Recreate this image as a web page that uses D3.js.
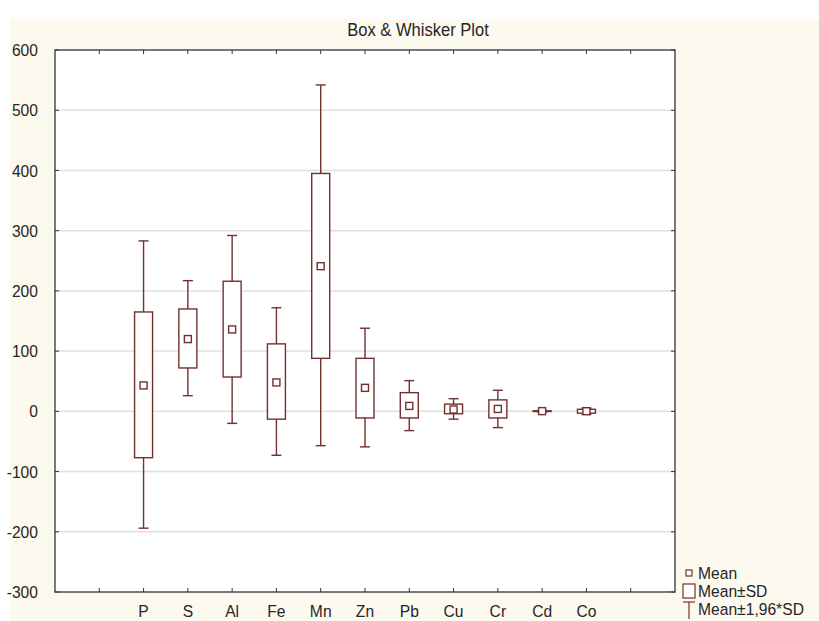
<!DOCTYPE html>
<html><head><meta charset="utf-8">
<script src="https://cdn.jsdelivr.net/npm/d3@7"></script>
<style>body{margin:0;background:#fff;}svg{display:block;font-family:"Liberation Sans",Arial,sans-serif;}</style>
</head><body><svg id="c" width="819" height="621"></svg>
<script>
const categories = ["P","S","Al","Fe","Mn","Zn","Pb","Cu","Cr","Cd","Co"];
const meanVals   = [43, 120, 136, 48, 241, 39, 9, 3, 4, 0.3, 0.2];
const sdLow      = [-77, 72, 57, -13, 88, -11, -11, -4, -11, -0.3, -3];
const sdHigh     = [165, 170, 216, 112, 395, 88, 31, 12, 19, 0.9, 3.4];
const ciLow      = [-194, 26, -20, -73, -57, -59, -32, -13, -27, -0.9, -5];
const ciHigh     = [283, 217, 292, 172, 542, 138, 51, 21, 35, 1.5, 5.4];
const yTicks = [-300,-200,-100,0,100,200,300,400,500,600];
const legendLabels = ["Mean","Mean±SD","Mean±1,96*SD"];
const title = "Box & Whisker Plot";

const col = "#72302e";
const txt = "#262626";
const sx = 0.92;
const svg = d3.select("#c");
svg.append("rect").attr("x",10).attr("y",19).attr("width",809).attr("height",602).attr("fill","#fcf9ef");

const L=55,R=675,T=50,B=592;
const x = d3.scaleLinear().domain([0,14]).range([L,R]);
const y = d3.scaleLinear().domain([-300,600]).range([B,T]);

svg.append("rect").attr("x",L).attr("y",T).attr("width",R-L).attr("height",B-T).attr("fill","#fff");

// gridlines
svg.append("g").selectAll("line").data(yTicks.filter(v=>v>-300&&v<600)).join("line")
  .attr("x1",L).attr("x2",R).attr("y1",d=>y(d)).attr("y2",d=>y(d))
  .attr("stroke","#e0e0e0").attr("stroke-width",1.5);

// frame ticks
const tickIdx = d3.range(1,14);
const tg = svg.append("g").attr("stroke","#333").attr("stroke-width",1);
tg.selectAll(".tt").data(tickIdx).join("line").attr("x1",d=>x(d)).attr("x2",d=>x(d)).attr("y1",T).attr("y2",T+4);
tg.selectAll(".tb").data(tickIdx).join("line").attr("x1",d=>x(d)).attr("x2",d=>x(d)).attr("y1",B).attr("y2",B-4);
tg.selectAll(".tl").data(yTicks).join("line").attr("x1",L).attr("x2",L+4).attr("y1",d=>y(d)).attr("y2",d=>y(d));
tg.selectAll(".tr").data(yTicks).join("line").attr("x1",R).attr("x2",R-4).attr("y1",d=>y(d)).attr("y2",d=>y(d));

function place(sel, fx, fy){
  return sel.attr("transform",(d,i)=>`translate(${fx(d,i)},${fy(d,i)}) scale(${sx},1)`);
}

// y labels
place(svg.append("g").selectAll("text").data(yTicks).join("text"), ()=>38, d=>y(d))
  .attr("dy","0.36em").attr("text-anchor","end")
  .attr("font-size",17).attr("fill",txt).text(d=>d);

// x labels
place(svg.append("g").selectAll("text").data(categories).join("text"), (d,i)=>x(i+2), ()=>617)
  .attr("text-anchor","middle")
  .attr("font-size",17).attr("fill",txt).text(d=>d);

// title
svg.append("text").attr("transform",`translate(418,36) scale(${sx},1)`).attr("text-anchor","middle")
  .attr("font-size",18).attr("fill",txt).text(title);

// boxes
const bw=18, cw=10, mw=7;
const g = svg.append("g").attr("stroke",col).attr("stroke-width",1.4);
categories.forEach((c,i)=>{
  const cx = x(i+2);
  g.append("line").attr("x1",cx).attr("x2",cx).attr("y1",y(ciLow[i])).attr("y2",y(ciHigh[i]));
  g.append("line").attr("x1",cx-cw/2).attr("x2",cx+cw/2).attr("y1",y(ciLow[i])).attr("y2",y(ciLow[i]));
  g.append("line").attr("x1",cx-cw/2).attr("x2",cx+cw/2).attr("y1",y(ciHigh[i])).attr("y2",y(ciHigh[i]));
  g.append("rect").attr("x",cx-bw/2).attr("width",bw).attr("y",y(sdHigh[i])).attr("height",Math.max(0,y(sdLow[i])-y(sdHigh[i]))).attr("fill","#fff");
  g.append("rect").attr("x",cx-mw/2).attr("width",mw).attr("y",y(meanVals[i])-mw/2).attr("height",mw).attr("fill","#fff");
});

// border
svg.append("rect").attr("x",L).attr("y",T).attr("width",R-L).attr("height",B-T).attr("fill","none").attr("stroke","#333").attr("stroke-width",1.3);

// legend
const lg = svg.append("g");
lg.append("rect").attr("x",686).attr("y",570).attr("width",6).attr("height",6).attr("fill","#fff").attr("stroke",col).attr("stroke-width",1.2);
lg.append("rect").attr("x",683).attr("y",584).attr("width",12).attr("height",14).attr("fill","#fff").attr("stroke",col).attr("stroke-width",1.2);
lg.append("line").attr("x1",683).attr("x2",695).attr("y1",602).attr("y2",602).attr("stroke",col).attr("stroke-width",1.2);
lg.append("line").attr("x1",689).attr("x2",689).attr("y1",602).attr("y2",619).attr("stroke",col).attr("stroke-width",1.2);
place(lg.selectAll("text").data(legendLabels).join("text"), ()=>698, (d,i)=>579+i*18)
  .attr("font-size",17).attr("fill",txt).text(d=>d);
</script></body></html>
